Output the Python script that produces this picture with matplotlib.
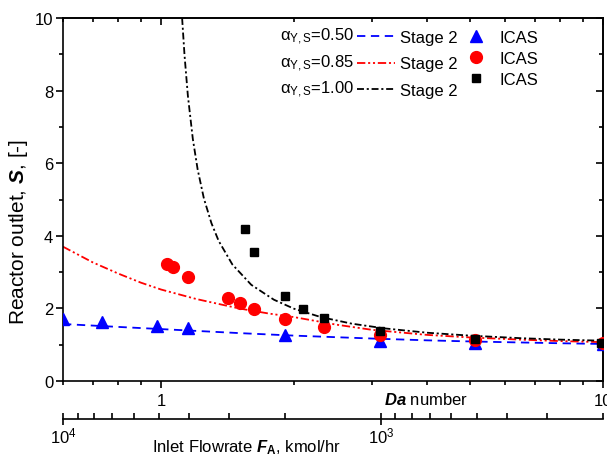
import numpy as np
import matplotlib
matplotlib.use("Agg")
import matplotlib.pyplot as plt
from matplotlib.ticker import FixedLocator, NullFormatter, FuncFormatter

plt.rcParams['font.family'] = ['Liberation Sans', 'DejaVu Sans']
plt.rcParams['mathtext.fontset'] = 'custom'
plt.rcParams['mathtext.rm'] = 'Liberation Sans'
plt.rcParams['mathtext.it'] = 'Liberation Sans:italic'
plt.rcParams['mathtext.bf'] = 'Liberation Sans:bold'
plt.rcParams['mathtext.bfit'] = 'Liberation Sans:bold:italic'
plt.rcParams['lines.scale_dashes'] = False
plt.rcParams['font.size'] = 12

# Stage 2 model curves (Da number vs reactor outlet S)
da_blue = [0.6, 0.8, 1.0, 1.5, 2.0, 3.0, 4.0, 5.0, 6.0, 8.0, 10.0]
s_blue = [1.57, 1.49, 1.43, 1.32, 1.25, 1.17, 1.12, 1.09, 1.07, 1.04, 1.02]

da_red = [0.6, 0.7, 0.8, 0.9, 1.0, 1.2, 1.5, 1.75, 2.0, 2.5, 3.0, 4.0, 5.0, 6.5, 8.0, 10.0]
s_red = [3.70, 3.27, 2.96, 2.71, 2.52, 2.26, 2.00, 1.86, 1.76, 1.55, 1.41, 1.27, 1.20, 1.14,
         1.10, 1.07]

da_black = [1.116, 1.13, 1.15, 1.18, 1.21, 1.25, 1.30, 1.35, 1.45, 1.6, 1.8, 2.0, 2.3, 2.7,
            3.2, 4.0, 5.0, 6.5, 8.0, 10.0]
s_black = [10.0, 8.98, 7.86, 6.67, 5.83, 5.03, 4.35, 3.86, 3.21, 2.65, 2.24, 1.99, 1.76, 1.58,
           1.45, 1.33, 1.25, 1.18, 1.14, 1.11]

# ICAS points
da_tri = [0.6, 0.734, 0.979, 1.152, 1.904, 3.13, 5.14, 10.0]
s_tri = [1.71, 1.62, 1.51, 1.46, 1.27, 1.10, 1.04, 1.02]

da_circ = [1.032, 1.065, 1.152, 1.42, 1.512, 1.619, 1.904, 2.334, 3.13, 5.14, 10.0]
s_circ = [3.22, 3.14, 2.86, 2.29, 2.15, 1.98, 1.71, 1.49, 1.27, 1.12, 1.05]

da_sq = [1.552, 1.619, 1.904, 2.09, 2.334, 3.13, 5.14, 9.9]
s_sq = [4.19, 3.55, 2.34, 1.98, 1.74, 1.38, 1.15, 1.06]

alpha_labels = ['0.50', '0.85', '1.00']

da_lim = (0.6, 10)
da_major = [1, 10]
da_minor = [0.6, 0.7, 0.8, 0.9, 2, 3, 4, 5, 6, 7, 8, 9]
f_lim = (1e4, 200)

W, H = 607, 456
fig = plt.figure(figsize=(W / 100, H / 100), dpi=100)
ax = fig.add_axes([63 / W, 1 - 382 / H, 540 / W, 363 / H])

l1, = ax.plot(da_blue, s_blue, color='#0000ff', lw=1.3, dashes=(6, 4))
l2, = ax.plot(da_red, s_red, color='#ff0000', lw=1.3, dashes=(6, 2, 1.5, 2, 1.5, 2))
l3, = ax.plot(da_black, s_black, color='black', lw=1.3, dashes=(5, 2, 1.5, 2))

m1, = ax.plot(da_tri, s_tri, ls='none', marker='^', ms=9, color='#0000ff', zorder=3)
m2, = ax.plot(da_circ, s_circ, ls='none', marker='o', ms=8.5, color='#ff0000', zorder=3)
m3, = ax.plot(da_sq, s_sq, ls='none', marker='s', ms=6, color='black', zorder=4)

ax.set_xscale('log')
ax.set_xlim(*da_lim)
ax.set_ylim(0, 10)
ax.xaxis.set_major_locator(FixedLocator(da_major))
ax.xaxis.set_minor_locator(FixedLocator(da_minor))
ax.xaxis.set_major_formatter(FuncFormatter(lambda v, p: f'{v:g}'))
ax.xaxis.set_minor_formatter(NullFormatter())
ax.set_yticks([0, 2, 4, 6, 8, 10])
ax.set_yticks([1, 3, 5, 7, 9], minor=True)
ax.tick_params(which='both', direction='out', width=1.2, labelsize=12)
ax.tick_params(which='major', length=5)
ax.tick_params(which='minor', length=3)
ax.tick_params(axis='y', pad=2)
for sp in ax.spines.values():
    sp.set_linewidth(1.2)

# mirrored ticks pointing inward on top and right
top = ax.secondary_xaxis('top')
top.xaxis.set_major_locator(FixedLocator(da_major))
top.xaxis.set_minor_locator(FixedLocator(da_minor))
top.xaxis.set_major_formatter(NullFormatter())
top.xaxis.set_minor_formatter(NullFormatter())
top.tick_params(which='both', direction='in', width=1.2)
top.tick_params(which='major', length=5)
top.tick_params(which='minor', length=3)
top.spines['top'].set_linewidth(1.2)
right = ax.secondary_yaxis('right')
right.set_yticks([0, 2, 4, 6, 8, 10])
right.set_yticks([1, 3, 5, 7, 9], minor=True)
right.yaxis.set_major_formatter(NullFormatter())
right.tick_params(which='both', direction='in', width=1.2)
right.tick_params(which='major', length=5)
right.tick_params(which='minor', length=3)
right.spines['right'].set_linewidth(1.2)

ax.text((426 - 63) / 540, -18 / 363, r'$\mathbfit{Da}$ number', transform=ax.transAxes,
        ha='center', va='center', fontsize=12)
ax.text((19 - 63) / 540, (382 - 232) / 363, r'Reactor outlet, $\mathbfit{S}$, [-]',
        transform=ax.transAxes, rotation=90, ha='center', va='center', fontsize=15)

# secondary flowrate axis below
fax = fig.add_axes([63 / W, 1 - 420 / H, 540 / W, 1e-4])
fax.set_xscale('log')
fax.set_xlim(*f_lim)
fax.set_yticks([])
for k in ['top', 'left', 'right']:
    fax.spines[k].set_visible(False)
fax.spines['bottom'].set_linewidth(1.2)
fax.xaxis.set_minor_formatter(NullFormatter())
fax.tick_params(which='major', direction='inout', length=8, width=1.2, labelsize=12, pad=1)
fax.tick_params(which='minor', direction='in', length=4, width=1.2)
fig.text(152 / W, 1 - 452 / H, r'Inlet Flowrate $\mathbfit{F}_{\mathbf{A}}$, kmol/hr',
         ha='left', va='baseline', fontsize=12)

# legends
leg1 = ax.legend([l1, l2, l3], ['Stage 2'] * 3, loc='upper left',
                 bbox_to_anchor=((357 - 63) / 540, (382 - 31) / 363), frameon=False,
                 borderpad=0, borderaxespad=0, handlelength=2.3, handletextpad=0.3,
                 labelspacing=0.68, fontsize=12)
ax.add_artist(leg1)
leg2 = ax.legend([m1, m2, m3], ['ICAS'] * 3, loc='upper left',
                 bbox_to_anchor=((466 - 63) / 540, (382 - 31) / 363), frameon=False,
                 borderpad=0, borderaxespad=0, handlelength=1.2, handletextpad=0.8,
                 labelspacing=0.36, fontsize=12)

fig.canvas.draw()
r = fig.canvas.get_renderer()
for line, lab in zip(leg1.get_lines(), alpha_labels):
    bb = line.get_window_extent(r)
    fig.text((bb.x0 - 3) / W, (bb.y0 + bb.y1) / 2 / H,
             r'α$_{\mathrm{Y,S}}$=' + lab, ha='right', va='center', fontsize=12)

fig.savefig('out.png', dpi=100)
